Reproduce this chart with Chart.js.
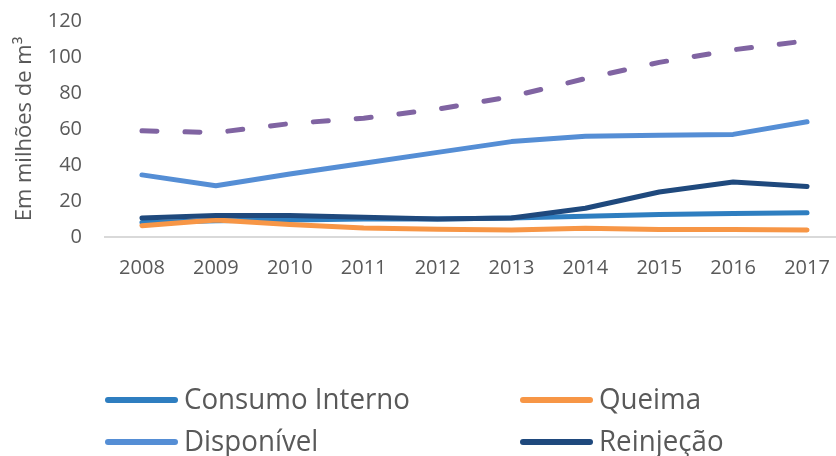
<!DOCTYPE html>
<html>
<head>
<meta charset="utf-8">
<script src="https://cdn.jsdelivr.net/npm/chart.js@4"></script>
<style>
  html, body { margin: 0; padding: 0; background: #fff; overflow: hidden; width: 836px; height: 456px; }
  #wrap { position: absolute; left: 0; top: 0; width: 846px; height: 290px; }
  #legend { position: absolute; left: 0; top: 0; width: 836px; height: 456px; pointer-events: none; }
  .item { position: absolute; display: flex; align-items: center; height: 34px; font-family: 'Open Sans', sans-serif; font-size: 29px; line-height: 1; color: #595959; white-space: nowrap; }
  .item span.line { display: inline-block; width: 73px; height: 6px; border-radius: 3px; margin-right: 6px; flex: none; }
  .item span.txt { display: inline-block; transform-origin: left center; }
</style>
</head>
<body>
<div id="wrap"><canvas id="chartCanvas"></canvas></div>
<div id="legend"></div>
<script>
const years = ['2008', '2009', '2010', '2011', '2012', '2013', '2014', '2015', '2016', '2017'];
const consumoInterno = [8, 9, 9.5, 10, 10, 10.5, 11.5, 12.5, 13, 13.5];
const queima = [6.3, 9.5, 7, 5, 4.3, 3.9, 4.8, 4.1, 4.1, 3.9];
const disponivel = [34.5, 28.5, 35, 41, 47, 53, 56, 56.5, 57, 64];
const reinjecao = [10.5, 12, 12, 11, 10, 10.5, 16, 25, 30.5, 28];
const total = [59, 58, 63, 66, 71, 78, 88, 97, 104, 109];
const yTicks = [0, 20, 40, 60, 80, 100, 120];

const corTexto = '#595959';

// series: label, data, colour, in legend?
const series = [
  { label: 'Consumo Interno', data: consumoInterno, color: '#2E7EC0', legend: true },
  { label: 'Queima', data: queima, color: '#F79646', legend: true },
  { label: 'Disponível', data: disponivel, color: '#558ED5', legend: true },
  { label: 'Reinjeção', data: reinjecao, color: '#1F497D', legend: true },
  { label: 'Total', data: total, color: '#8064A2', legend: false, dash: [15, 28] }
];

document.addEventListener('DOMContentLoaded', function() {
  buildChart();
  buildLegend();
});

function buildChart(){
  let datasets = [];
  for (let i = 0; i < series.length; i++) {
    let s = series[i];
    datasets.push({
      label: s.label,
      data: s.data,
      borderColor: s.color,
      backgroundColor: s.color,
      borderWidth: 5,
      borderDash: s.dash || [],
      borderCapStyle: 'round',
      borderJoinStyle: 'round',
      pointRadius: 0,
      tension: 0,
      fill: false,
      order: series.length - i   // mais tarde = por cima
    });
  }

  const config = {
    type: 'line',
    data: { labels: years, datasets: datasets },
    options: {
      responsive: true,
      maintainAspectRatio: false,
      animation: false,
      layout: { padding: { top: 0, right: 2, bottom: 0, left: 0 } },
      plugins: { legend: { display: false }, tooltip: { enabled: false } },
      scales: {
        x: {
          offset: true,
          grid: { display: false },
          border: { display: true, color: '#d9d9d9', width: 2 },
          ticks: { color: corTexto, font: { family: 'Open Sans', size: 20 }, padding: 11, maxRotation: 0 },
          afterFit: function(scale) { scale.height = 53; }
        },
        y: {
          min: 0,
          max: 120,
          afterBuildTicks: function(scale) { scale.ticks = yTicks.map(v => ({ value: v })); },
          grid: { display: false },
          border: { display: false },
          ticks: { color: corTexto, font: { family: 'Open Sans', size: 20 }, padding: 15 },
          title: {
            display: true,
            text: 'Em milhões de m³',
            color: corTexto,
            font: { family: 'Open Sans', size: 22 },
            padding: { top: 12, bottom: 0 }
          },
          afterFit: function(scale) {
            scale.width = 105;
            scale.paddingTop = 21;   // topo da área = 120
          }
        }
      }
    }
  };

  return new Chart(document.getElementById('chartCanvas'), config);
}

//legenda em duas colunas
function buildLegend(){
  const legend = document.getElementById('legend');
  const pos = [[105, 383], [520, 383], [105, 425], [520, 425]];
  // largura do texto como no original
  const ctx = document.createElement('canvas').getContext('2d');
  ctx.font = '29px "Open Sans"';
  const escala = 226 / ctx.measureText('Consumo Interno').width;
  let k = 0;
  for (let i = 0; i < series.length; i++) {
    let s = series[i];
    if (!s.legend) continue;
    let item = document.createElement('div');
    item.className = 'item';
    item.style.left = pos[k][0] + 'px';
    item.style.top = pos[k][1] + 'px';
    let line = document.createElement('span');
    line.className = 'line';
    line.style.background = s.color;
    item.appendChild(line);
    let txt = document.createElement('span');
    txt.className = 'txt';
    txt.textContent = s.label;
    txt.style.transform = 'translateY(-3px) scaleX(' + escala + ')';
    item.appendChild(txt);
    legend.appendChild(item);
    k++;
  }
}
</script>
</body>
</html>
